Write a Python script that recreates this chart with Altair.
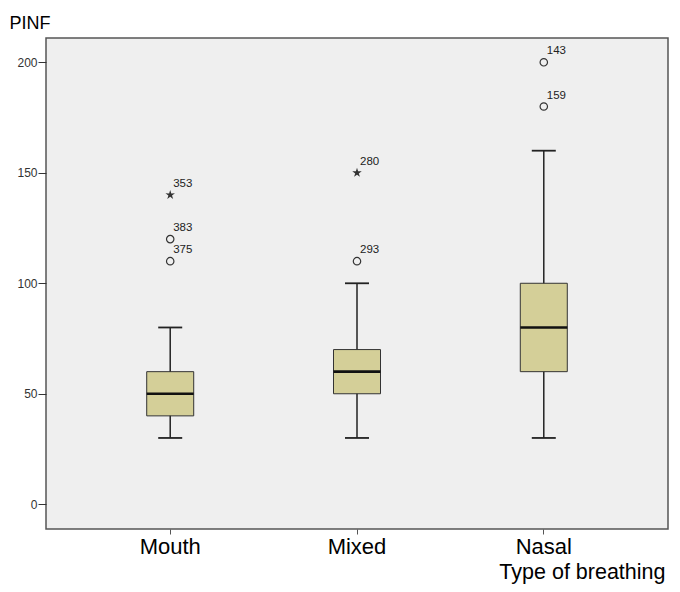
import altair as alt
import pandas as pd

# ---- data ----
groups = ["Mouth", "Mixed", "Nasal"]
whisker_low = [30, 30, 30]
q1 = [40, 50, 60]
median = [50, 60, 80]
q3 = [60, 70, 100]
whisker_high = [80, 100, 160]

outlier_group = ["Mouth", "Mouth", "Mouth", "Mixed", "Mixed", "Nasal", "Nasal"]
outlier_value = [140, 120, 110, 150, 110, 200, 180]
outlier_case = ["353", "383", "375", "280", "293", "143", "159"]
outlier_kind = ["extreme", "outlier", "outlier", "extreme", "outlier", "outlier", "outlier"]

y_ticks = [0, 50, 100, 150, 200]

stats = pd.DataFrame({
    "group": groups, "lo": whisker_low, "q1": q1, "med": median,
    "q3": q3, "hi": whisker_high,
})
outl = pd.DataFrame({
    "group": outlier_group, "value": outlier_value,
    "case": outlier_case, "kind": outlier_kind,
})

FONT = "Liberation Sans"
STAR = ("M0,-1L0.22,-0.3L0.95,-0.31L0.36,0.12L0.59,0.81L0,0.38"
        "L-0.59,0.81L-0.36,0.12L-0.95,-0.31L-0.22,-0.3Z")

x_enc = alt.X(
    "group:N", sort=groups,
    scale=alt.Scale(domain=groups, paddingInner=0.5, paddingOuter=0.415),
    axis=alt.Axis(
        title="Type of breathing", labelAngle=0, domain=False, grid=False,
        ticks=True, tickSize=5, tickColor="#555", tickWidth=1,
        labelFontSize=22, labelFont=FONT, labelColor="#000", labelPadding=2,
        titleFontSize=21.5, titleFont=FONT, titleFontWeight="normal", titleColor="#000",
        titleX=619, titleY=49, titleAlign="right", titleBaseline="alphabetic",
    ),
)
y_scale = alt.Scale(domain=[-11.2, 211], nice=False, zero=False)
y_axis = alt.Axis(
    values=y_ticks, title="PINF", domain=False, grid=False,
    tickSize=8, tickColor="#333", tickWidth=1,
    labelFontSize=12, labelFont=FONT, labelColor="#333", labelPadding=1,
    titleAngle=0, titleFontSize=18, titleFont=FONT, titleFontWeight="normal",
    titleColor="#000", titleX=-37, titleY=-10, titleAlign="left",
    titleBaseline="alphabetic",
)

base = alt.Chart(stats)

whisk = base.mark_rule(stroke="#222", strokeWidth=1.5).encode(
    x=x_enc, y=alt.Y("lo:Q", scale=y_scale, axis=y_axis), y2="hi:Q")
caps_lo = base.mark_tick(size=24, thickness=1.8, color="#222", opacity=1).encode(
    x=x_enc, y=alt.Y("lo:Q", scale=y_scale))
caps_hi = base.mark_tick(size=24, thickness=1.8, color="#222", opacity=1).encode(
    x=x_enc, y=alt.Y("hi:Q", scale=y_scale))
box = base.mark_bar(size=47, fill="#d4cf98", stroke="#333", strokeWidth=1).encode(
    x=x_enc, y=alt.Y("q1:Q", scale=y_scale), y2="q3:Q")
med = base.mark_tick(size=47, thickness=2.6, color="#111", opacity=1).encode(
    x=x_enc, y=alt.Y("med:Q", scale=y_scale))

ob = alt.Chart(outl)
circ = ob.transform_filter(alt.datum.kind == "outlier").mark_point(
    shape="circle", filled=False, size=55, stroke="#333", strokeWidth=1.2, opacity=1
).encode(x=x_enc, y=alt.Y("value:Q", scale=y_scale))
star = ob.transform_filter(alt.datum.kind == "extreme").mark_point(
    shape=STAR, filled=True, size=100, color="#333", opacity=1
).encode(x=x_enc, y=alt.Y("value:Q", scale=y_scale))
labels = ob.mark_text(
    align="left", baseline="alphabetic", dx=3, dy=-8,
    fontSize=11.5, font=FONT, color="#222",
).encode(x=x_enc, y=alt.Y("value:Q", scale=y_scale), text="case:N")

chart = alt.layer(whisk, caps_lo, caps_hi, box, med, circ, star, labels).properties(
    width=622, height=491,
    autosize=alt.AutoSizeParams(type="none"),
    padding={"left": 38, "top": 30, "right": 4, "bottom": 55},
    background="white",
).configure_view(
    fill="#efefef", stroke="#555", strokeWidth=1.5,
)

chart.save("out.html", embed_options={"renderer": "svg", "actions": False})
